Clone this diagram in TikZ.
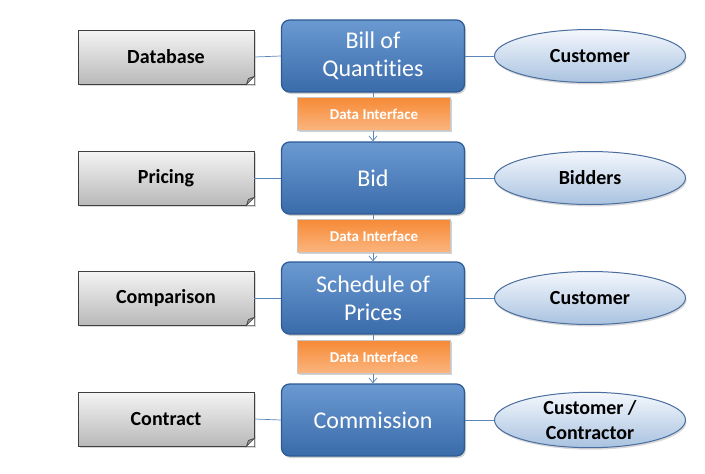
\documentclass[tikz,border=0pt]{standalone}
\usepackage{fontspec}
\setmainfont{Carlito}[Ligatures=NoCommon]
\usetikzlibrary{arrows.meta,shapes.geometric,shadows}
\definecolor{bluedark}{HTML}{2C5A92}
\definecolor{bluetop}{HTML}{6B9AD2}
\definecolor{bluebot}{HTML}{3A6BAA}
\definecolor{linecol}{HTML}{5B86BA}
\definecolor{orangetop}{HTML}{F68A36}
\definecolor{orangebot}{HTML}{FBB57F}
\definecolor{orangeedge}{HTML}{C8C8C8}
\definecolor{graytop}{HTML}{F4F4F4}
\definecolor{graybot}{HTML}{B9B9B9}
\definecolor{elltop}{HTML}{F4F8FD}
\definecolor{ellbot}{HTML}{A9C2E0}
\definecolor{elledge}{HTML}{4A6E9E}
\tikzset{
  mainbox/.style={draw=bluedark, line width=1.2pt, rounded corners=8pt,
    top color=bluetop, bottom color=bluebot, minimum width=183pt, minimum height=72pt,
    text=white, font=\fontsize{24}{28}\selectfont, align=center, inner sep=2pt,
    drop shadow={shadow xshift=1.5pt, shadow yshift=-2pt, opacity=0.35}},
  graybox/.style={draw=black!75, line width=0.8pt, top color=graytop, bottom color=graybot,
    minimum width=176pt, minimum height=54pt, font=\fontsize{20}{24}\selectfont\bfseries,
    drop shadow={shadow xshift=1.5pt, shadow yshift=-1.5pt, opacity=0.3}},
  ellbox/.style={ellipse, draw=elledge, line width=1pt, top color=elltop, bottom color=ellbot,
    minimum width=191pt, minimum height=53pt, inner sep=0pt, align=center,
    font=\fontsize{20}{25}\selectfont\bfseries,
    drop shadow={shadow xshift=1pt, shadow yshift=-2pt, opacity=0.3}},
  ifbox/.style={draw=orangeedge, line width=0.8pt, top color=orangetop, bottom color=orangebot,
    minimum width=153pt, minimum height=33pt, text=white, font=\fontsize{15}{18}\selectfont\bfseries,
    drop shadow={shadow xshift=1.5pt, shadow yshift=-1.5pt, opacity=0.35}},
  conn/.style={draw=linecol, line width=0.7pt},
  flow/.style={conn, -{Straight Barb[length=5pt,width=8pt]}}
}
\begin{document}
\begin{tikzpicture}[x=1pt,y=-1pt]
\useasboundingbox[fill=white] (0,0) rectangle (705,474);
% gray boxes
\node[graybox] (g1) at (166,57) {Database};
\node[graybox] (g2) at (166,178) {Pricing};
\node[graybox] (g3) at (166,298) {Comparison};
\node[graybox] (g4) at (166,419) {Contract};
% main boxes
\node[mainbox] (b1) at (373,56) {Bill of\\Quantities};
\node[mainbox] (b2) at (373,178) {Bid};
\node[mainbox] (b3) at (373,298) {Schedule of\\Prices};
\node[mainbox] (b4) at (373,420) {Commission};
% ellipses
\node[ellbox] (e1) at (590,56) {Customer};
\node[ellbox] (e2) at (590,178) {Bidders};
\node[ellbox] (e3) at (590,298) {Customer};
\node[ellbox] (e4) at (590,420) {Customer /\\Contractor};
% connectors
\foreach \i in {1,2,3,4}{
  \draw[conn] (g\i.east) -- (b\i.west);
  \draw[conn] (b\i.east) -- (e\i.west);
}
\draw[flow] (b1.south) -- (b2.north);
\draw[flow] (b2.south) -- (b3.north);
\draw[flow] (b3.south) -- (b4.north);
% folded corners on gray boxes
\foreach \i in {1,2,3,4}{
  \fill[white] ([xshift=-8pt]g\i.south east) -- (g\i.south east) -- ([yshift=8pt]g\i.south east) -- cycle;
  \filldraw[fill=graybot!80!black, draw=black!75, line width=0.6pt]
    ([xshift=-8pt]g\i.south east) -- ([xshift=-6pt,yshift=6pt]g\i.south east) -- ([yshift=8pt]g\i.south east) -- cycle;
}
% interface boxes
\node[ifbox] (d1) at (374,114) {Data Interface};
\node[ifbox] (d2) at (374,236) {Data Interface};
\node[ifbox] (d3) at (374,357) {Data Interface};
\end{tikzpicture}
\end{document}
